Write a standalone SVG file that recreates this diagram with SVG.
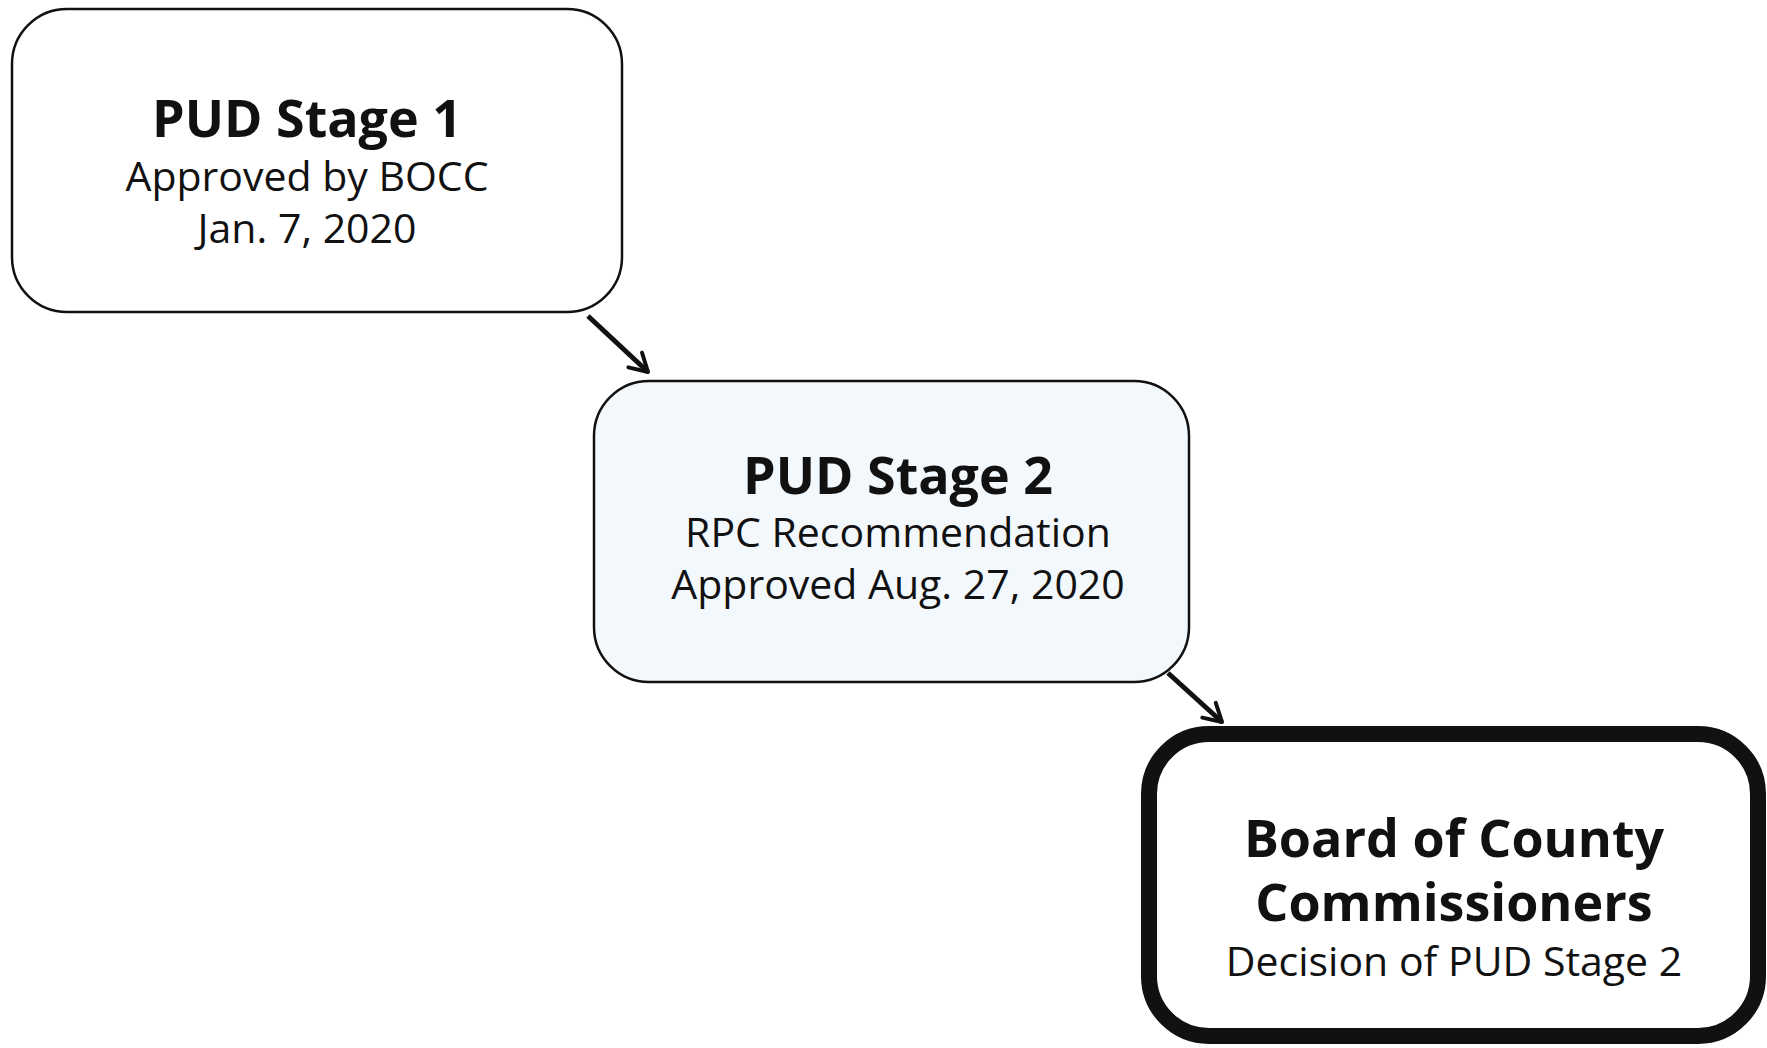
<svg xmlns="http://www.w3.org/2000/svg" width="1767" height="1048" viewBox="0 0 1767 1048">
<defs>
<style>
.box{stroke:#111;stroke-width:2.5}
.t{font-family:"Open Sans","Noto Sans","Liberation Sans",sans-serif;fill:#111;text-anchor:middle}
.b{font-weight:bold;font-size:52px}
.r{font-size:41px}
.conn{stroke:#111;stroke-width:5;fill:none;marker-end:url(#arr)}
</style>
<marker id="arr" viewBox="0 0 10 10" refX="8" refY="5" markerWidth="5" markerHeight="5" orient="auto" markerUnits="strokeWidth">
<path d="M1,1 L8,5 L1,9" fill="none" stroke="#111" stroke-width="1.6" stroke-linecap="round" stroke-linejoin="round"/>
</marker>
</defs>
<rect width="1767" height="1048" fill="#fff"/>
<g id="node1">
<rect class="box" x="12" y="9" width="610" height="303" rx="55" fill="#fff"/>
<text class="t b" x="307" y="137">PUD Stage 1</text>
<text class="t r" x="307" y="191">Approved by BOCC</text>
<text class="t r" x="307" y="243">Jan. 7, 2020</text>
</g>
<g id="node2">
<rect class="box" x="594" y="381" width="595" height="301" rx="55" fill="#f3f8fd"/>
<text class="t b" x="898" y="494">PUD Stage 2</text>
<text class="t r" x="898" y="547">RPC Recommendation</text>
<text class="t r" x="898" y="599">Approved Aug. 27, 2020</text>
</g>
<g id="node3">
<rect x="1149" y="734" width="609" height="302" rx="60" fill="#fff" stroke="#111" stroke-width="16"/>
<text class="t b" x="1454" y="857">Board of County</text>
<text class="t b" x="1454" y="921">Commissioners</text>
<text class="t r" x="1454" y="976">Decision of PUD Stage 2</text>
</g>
<g id="connectors">
<line class="conn" x1="588" y1="316" x2="648" y2="372"/>
<line class="conn" x1="1168" y1="673" x2="1222" y2="722"/>
</g>
</svg>
